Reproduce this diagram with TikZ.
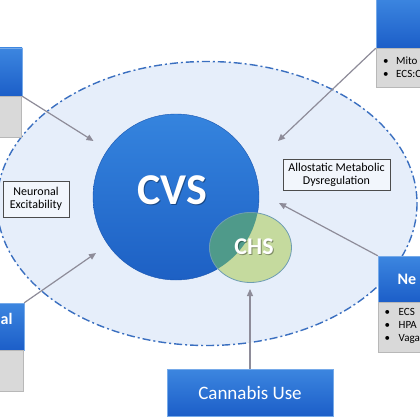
\documentclass[tikz,border=0pt]{standalone}
\usepackage{fontspec}
\setmainfont{Carlito}
\usetikzlibrary{arrows.meta,shapes.geometric}
\definecolor{bgell}{HTML}{E6EEFA}
\definecolor{ellline}{HTML}{3A6FC0}
\definecolor{btop}{HTML}{3C86E0}
\definecolor{bbot}{HTML}{1C5EC8}
\definecolor{grayfill}{HTML}{D9D9D9}
\definecolor{arrowc}{HTML}{8E8C99}
\definecolor{chsgreen}{HTML}{C5DA9E}
\definecolor{chsline}{HTML}{6E9DB2}
\definecolor{overlapc}{HTML}{4F9A8A}
\definecolor{ctop}{HTML}{3584DE}
\definecolor{cbot}{HTML}{1D60C4}
\begin{document}
\begin{tikzpicture}[x=1pt,y=-1pt,
 bluebox/.style={rectangle, inner sep=0, top color=btop, bottom color=bbot, draw=btop!70!white, line width=0.5pt},
 graybox/.style={rectangle, inner sep=0, fill=grayfill, draw=grayfill!85!black, line width=0.3pt},
 labelbox/.style={rectangle, draw=black!70, line width=0.8pt, fill=bgell!50!white, align=center, font=\fontsize{12}{13}\selectfont, inner sep=0},
 arr/.style={draw=arrowc, line width=1.2pt, -{Triangle[length=7pt,width=6pt]}},
 bul/.style={anchor=west, font=\fontsize{11}{12}\selectfont, inner sep=0},
 boxhead/.style={text=white, font=\fontsize{16}{16}\selectfont\bfseries, inner sep=0},
 chsshape/.style={ellipse, minimum width=82pt, minimum height=70pt, inner sep=0}
]
\useasboundingbox (0,0) rectangle (420,420);
\clip (0,0) rectangle (420,420);
\fill[white] (0,0) rectangle (420,420);
% background ellipse
\draw[fill=bgell, draw=ellline, line width=1.4pt, dash pattern=on 8pt off 3pt on 2pt off 3pt]
  (207,203.5) ellipse [x radius=210, y radius=142];

% CVS circle
\node[circle, minimum size=166pt, inner sep=0, top color=ctop, bottom color=cbot, draw=cbot!90!black, line width=0.4pt] (cvs) at (176,197) {};
% CHS ellipse
\node[chsshape, fill=chsgreen] (chs) at (250.5,247.5) {};
\begin{scope}
  \clip (176,197) circle [radius=83];
  \fill[overlapc] (250.5,247.5) ellipse [x radius=41, y radius=35];
\end{scope}
\node[chsshape, draw=chsline, line width=0.8pt] (chsb) at (250.5,247.5) {};

% texts with shadow
\node[text=black, opacity=0.35, font=\fontsize{44}{44}\selectfont\bfseries, inner sep=0] (cvss) at (173.5,191.5) {CVS};
\node[text=white, font=\fontsize{44}{44}\selectfont\bfseries, inner sep=0] (cvst) at (172,190) {CVS};
\node[text=black, opacity=0.35, font=\fontsize{24}{24}\selectfont\bfseries, inner sep=0] (chss) at (255,248) {CHS};
\node[text=white, font=\fontsize{24}{24}\selectfont\bfseries, inner sep=0] (chst) at (254,247) {CHS};

% label boxes
\node[labelbox, minimum width=66pt, minimum height=36pt] (neu) at (36,199) {Neuronal\\Excitability};
\node[labelbox, minimum width=107pt, minimum height=31pt] (allo) at (336.5,174.5) {Allostatic Metabolic\\Dysregulation};

% top-left box
\node[bluebox, minimum width=44pt, minimum height=48pt] (tlb) at (0,72) {};
\node[graybox, minimum width=42pt, minimum height=41pt] (tlg) at (0,116.5) {};
% top-right box
\node[bluebox, minimum width=64pt, minimum height=50pt] (trb) at (408,23) {};
\node[graybox, minimum width=64pt, minimum height=39.5pt] (trg) at (408,67.5) {};
\node[bul] (tr1) at (383,60.7) {\makebox[13pt][l]{•}Mito};
\node[bul] (tr2) at (383,74) {\makebox[13pt][l]{•}ECS:C};
% bottom-left box
\node[bluebox, minimum width=48pt, minimum height=47pt] (blb) at (0,326.5) {};
\node[graybox, minimum width=46pt, minimum height=41pt] (blg) at (0,370.5) {};
\node[boxhead, anchor=west] (blt) at (0.5,318.5) {al};
% bottom-right box
\node[bluebox, minimum width=64pt, minimum height=46pt] (brb) at (410,279) {};
\node[graybox, minimum width=64pt, minimum height=50pt] (brg) at (410,327) {};
\node[boxhead, anchor=west] (brt) at (397.5,279) {Ne};
\node[bul] (br1) at (384.5,312.3) {\makebox[14pt][l]{•}ECS};
\node[bul] (br2) at (384.5,325) {\makebox[14pt][l]{•}HPA};
\node[bul] (br3) at (384.5,338.7) {\makebox[14pt][l]{•}Vaga};

% Cannabis use
\node[bluebox, minimum width=166pt, minimum height=47pt, text=white, font=\fontsize{19}{19}\selectfont] (can) at (250,392.5) {Cannabis Use};

% arrows
\coordinate (e1) at (93.5,141);
\coordinate (e2) at (278,141);
\coordinate (e3) at (96,253);
\coordinate (e4) at (279,203);
\coordinate (e5) at (250,289);
\draw[arr] (tlb.south east) -- (e1);
\draw[arr] (trb.south west) -- (e2);
\draw[arr] (blb.north east) -- (e3);
\draw[arr] (brb.north west) -- (e4);
\draw[arr] (can.north) -- (e5);
\end{tikzpicture}
\end{document}
